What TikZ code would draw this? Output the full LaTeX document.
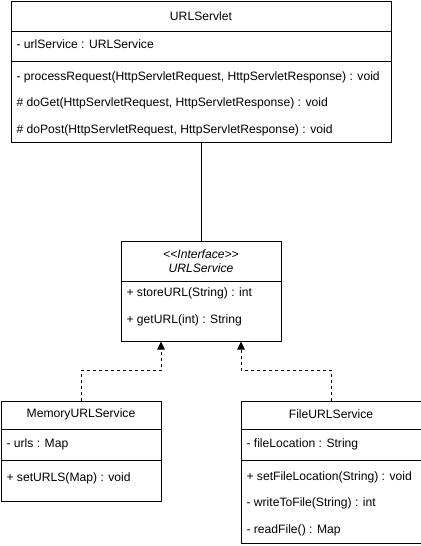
\documentclass[tikz,border=0pt]{standalone}
\usepackage{fontspec}
\setmainfont{Liberation Sans}
\usetikzlibrary{calc}
\usetikzlibrary{arrows.meta}
\usetikzlibrary{positioning}

\begin{document}
\begin{tikzpicture}[x=0.75pt, y=-0.75pt, line width=0.75pt,
        font=\fontsize{9.1pt}{11pt}\selectfont,
        classbox/.style 2 args={draw, anchor=north west, inner sep=0pt,
                                minimum width=#1*0.75pt, minimum height=#2*0.75pt},
        member/.style={anchor=west, inner sep=0pt},
        heading/.style={inner sep=0pt},
        realize/.style={dash pattern=on 2.25pt off 2.25pt,
                        -{Triangle[width=5.6pt, length=6pt]}}]
            \useasboundingbox                                                 (0, 0) rectangle (421, 546);
            % URLServlet
            \node[classbox={380}{141}] (servlet)                              at (10.5, 0.5) {};
            \draw ($(servlet.north west)+(0,31)$) -- ($(servlet.north east)+(0,31)$);
            \draw ($(servlet.north west)+(0,61)$) -- ($(servlet.north east)+(0,61)$);
            \node[heading] (servletname)  at ($(servlet.north)+(0,15.5)$)        {URLServlet};
            \node[member]  (servletattr)  at ($(servlet.north west)+(5.5,44)$)   {- urlService : URLService};
            \node[member]  (servletproc)  at ($(servlet.north west)+(5.5,77)$)   {- processRequest(HttpServletRequest, HttpServletResponse) : void};
            \node[member]  (servletget)   at ($(servlet.north west)+(5.5,103)$)  {\# doGet(HttpServletRequest, HttpServletResponse) : void};
            \node[member]  (servletpost)  at ($(servlet.north west)+(5.5,129.5)$){\# doPost(HttpServletRequest, HttpServletResponse) : void};
            % URLService interface
            \node[classbox={160}{100}] (service)                              at (120.5, 240.5) {};
            \draw ($(service.north west)+(0,41)$) -- ($(service.north east)+(0,41)$);
            \node[heading] (servicestereo) at ($(service.north)+(0,13.5)$)       {\itshape <\kern0pt<Interface>\kern0pt>};
            \node[heading] (servicename)   at ($(service.north)+(0,27.5)$)       {\itshape URLService};
            \node[member]  (servicestore)  at ($(service.north west)+(5.5,53)$)  {+ storeURL(String) : int};
            \node[member]  (serviceget)    at ($(service.north west)+(5.5,79.5)$){+ getURL(int) : String};
            % MemoryURLService
            \node[classbox={160}{100}] (memory)                               at (0.5, 400.5) {};
            \draw ($(memory.north west)+(0,29)$) -- ($(memory.north east)+(0,29)$);
            \draw ($(memory.north west)+(0,60)$) -- ($(memory.north east)+(0,60)$);
            \node[heading] (memoryname)    at ($(memory.north)+(0,14)$)          {MemoryURLService};
            \node[member]  (memoryurls)    at ($(memory.north west)+(5.5,43.5)$) {- urls : Map};
            \node[member]  (memoryset)     at ($(memory.north west)+(5.5,77.5)$) {+ setURLS(Map) : void};
            % FileURLService
            \node[classbox={180}{142}] (file)                                 at (240.5, 400.5) {};
            \draw ($(file.north west)+(0,29)$) -- ($(file.north east)+(0,29)$);
            \draw ($(file.north west)+(0,60)$) -- ($(file.north east)+(0,60)$);
            \node[heading] (filename)      at ($(file.north)+(0,14)$)            {FileURLService};
            \node[member]  (filelocation)  at ($(file.north west)+(5.5,43.5)$)   {- fileLocation : String};
            \node[member]  (fileset)       at ($(file.north west)+(5.5,77)$)     {+ setFileLocation(String) : void};
            \node[member]  (filewrite)     at ($(file.north west)+(5.5,103)$)    {- writeToFile(String) : int};
            \node[member]  (fileread)      at ($(file.north west)+(5.5,129.5)$)  {- readFile() : Map};
            % Association & realizations
            \draw                   (servlet.south) -- (service.north);
            \draw[realize]          (memory.north) -- ++(0,-30.5) -| ($(service.south)+(-40,0)$);
            \draw[realize]          (file.north)   -- ++(0,-30.5) -| ($(service.south)+( 40,0)$);
        \end{tikzpicture}
\end{document}
